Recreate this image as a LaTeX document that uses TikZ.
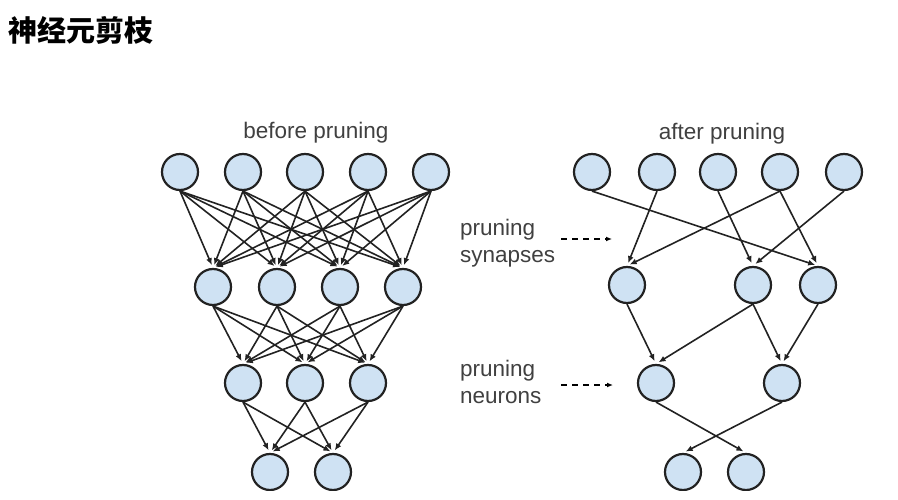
\documentclass[tikz,border=0pt]{standalone}
\usepackage{fontspec}
\setmainfont{Liberation Sans}
\newfontfamily\cjk{Noto Sans CJK SC}
\usetikzlibrary{positioning,arrows.meta}
\definecolor{cellblue}{HTML}{CFE2F3}
\definecolor{rimgray}{HTML}{222222}
\definecolor{textgray}{HTML}{404040}

\begin{document}
\begin{tikzpicture}[x=1pt,y=-1pt,
  neuron/.style={circle,draw=rimgray,fill=cellblue,line width=2.2pt,minimum size=36pt,inner sep=0pt},
  syn/.style={-{Latex[length=7pt,width=6pt]},line width=1.6pt,draw=rimgray,shorten >=3pt},
  lbl/.style={font=\fontsize{22.5}{27}\selectfont,text=textgray,align=left,inner sep=0pt},
  hint/.style={dash pattern=on 6pt off 5pt,-{Latex[length=6pt,width=5pt]},line width=1.5pt}]
\useasboundingbox (0,0) rectangle (898,500);
\node[anchor=west,font=\cjk\bfseries\fontsize{29}{31}\selectfont] (title) at (5,30) {神经元剪枝};
\node[lbl,anchor=base] (before) at (316,139) {before pruning};
\node[lbl,anchor=base] (after) at (722,140) {after pruning};
\begin{scope}
\clip (0,0) rectangle (898,490);
% before pruning
\foreach \x [count=\i] in {180,243,305,368,431} \node[neuron] (a\i) at (\x,172) {};
\foreach \x [count=\i] in {213,277,340,403} \node[neuron] (b\i) at (\x,287) {};
\foreach \x [count=\i] in {243,305,368} \node[neuron] (c\i) at (\x,383) {};
\foreach \x [count=\i] in {270,333} \node[neuron] (d\i) at (\x,472) {};
\foreach \i in {1,...,5} {\foreach \j in {1,...,4} {\draw[syn] (a\i.south) -- (b\j.north);}}
\foreach \i in {1,...,4} {\foreach \j in {1,...,3} {\draw[syn] (b\i.south) -- (c\j.north);}}
\foreach \i in {1,...,3} {\foreach \j in {1,2} {\draw[syn] (c\i.south) -- (d\j.north);}}
% after pruning
\foreach \x [count=\i] in {592,657,718,780,844} \node[neuron] (pa\i) at (\x,172) {};
\foreach \x [count=\i] in {627,753,818} \node[neuron] (pb\i) at (\x,285) {};
\foreach \x [count=\i] in {656,782} \node[neuron] (pc\i) at (\x,383) {};
\foreach \x [count=\i] in {683,746} \node[neuron] (pd\i) at (\x,472) {};
\foreach \s/\t in {pa1/pb3,pa2/pb1,pa3/pb2,pa4/pb1,pa4/pb3,pa5/pb2,
  pb1/pc1,pb2/pc1,pb2/pc2,pb3/pc2,pc1/pd2,pc2/pd1} {\draw[syn] (\s.south) -- (\t.north);}
\end{scope}
% labels in the middle
\node[lbl,anchor=north west] (synlbl) at (460,219) {pruning\\synapses};
\node[lbl,anchor=north west] (neulbl) at (460,360) {pruning\\neurons};
\coordinate (synend) at (612,239);
\coordinate (neuend) at (613,385);
\draw[hint] ([xshift=6pt]synlbl.east |- synend) -- (synend);
\draw[hint] ([xshift=6pt]synlbl.east |- neuend) -- (neuend);
\end{tikzpicture}
\end{document}
